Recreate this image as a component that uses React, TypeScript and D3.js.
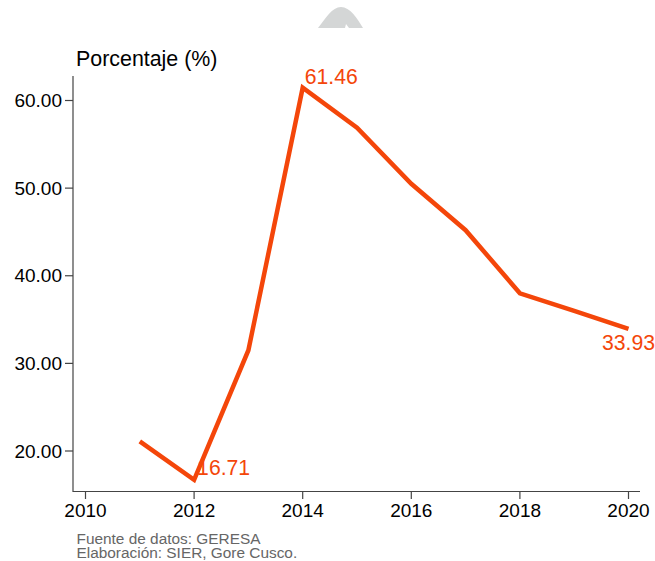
import React from "react";
import * as d3 from "d3";

const years = [2011, 2012, 2013, 2014, 2015, 2016, 2017, 2018, 2019, 2020];
const values = [21.1, 16.71, 31.5, 61.46, 56.9, 50.5, 45.2, 38.0, 36.0, 33.93];
const xTicks = [2010, 2012, 2014, 2016, 2018, 2020];
const yTicks = [20, 30, 40, 50, 60];
const labelled = [
  { year: 2012, value: 16.71, text: "16.71", dx: 3, dy: -5, anchor: "start" },
  { year: 2014, value: 61.46, text: "61.46", dx: 2, dy: -4, anchor: "start" },
  { year: 2020, value: 33.93, text: "33.93", dx: 0, dy: 21, anchor: "middle" },
];

const FONT = "Liberation Sans, Arial, sans-serif";
const ORANGE = "#F4460A";

export default function App() {
  const x = d3.scaleLinear().domain([2010, 2020]).range([85.5, 628.5]);
  const y = d3.scaleLinear().domain([20, 60]).range([451, 100.5]);
  const line = d3
    .line<number>()
    .x((_, i) => x(years[i]))
    .y((d) => y(d));
  return (
    <svg
      width={655}
      height={561}
      style={{ position: "absolute", left: 0, top: 0, background: "#fff" }}
      fontFamily={FONT}
    >
      <path
        d="M318 28 C326 18 332 7 341 7 C350 7 357 18 363 28 L349 28 L346 24 L345 28 Z"
        fill="#d4d6d6"
      />
      <line x1={73} x2={73} y1={76} y2={492} stroke="#444" strokeWidth={1.2} />
      <line x1={73} x2={640} y1={491.5} y2={491.5} stroke="#444" strokeWidth={1.2} />
      {yTicks.map((t) => (
        <g key={t}>
          <line x1={65} x2={73} y1={y(t)} y2={y(t)} stroke="#444" strokeWidth={1.2} />
          <text x={62} y={y(t) + 6.5} textAnchor="end" fontSize={19} fill="#000">
            {t.toFixed(2)}
          </text>
        </g>
      ))}
      {xTicks.map((t) => (
        <g key={t}>
          <line x1={x(t)} x2={x(t)} y1={491.5} y2={499} stroke="#444" strokeWidth={1.2} />
          <text x={x(t)} y={516.5} textAnchor="middle" fontSize={19} fill="#000">
            {t}
          </text>
        </g>
      ))}
      <text x={76} y={66} fontSize={21.4} fill="#000">Porcentaje (%)</text>
      <path d={line(values) ?? ""} fill="none" stroke={ORANGE} strokeWidth={4.5} strokeLinejoin="miter" />
      {labelled.map((l) => (
        <text
          key={l.year}
          x={x(l.year) + l.dx}
          y={y(l.value) + l.dy}
          textAnchor={l.anchor as "start" | "middle"}
          fontSize={21.2}
          fill={ORANGE}
        >
          {l.text}
        </text>
      ))}
      <text x={76.5} y={543.5} fontSize={15.4} fill="#666">Fuente de datos: GERESA</text>
      <text x={76.5} y={558} fontSize={15.4} fill="#666">Elaboración: SIER, Gore Cusco.</text>
    </svg>
  );
}
